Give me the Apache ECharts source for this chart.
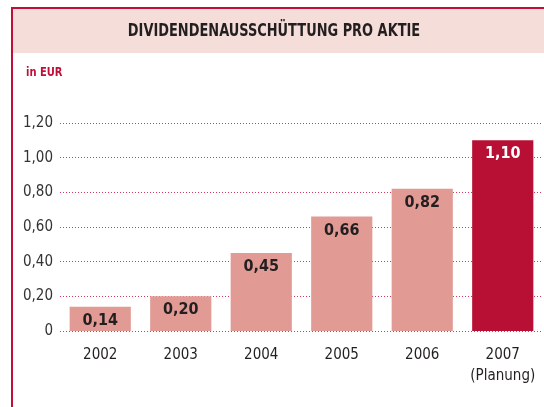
<!DOCTYPE html>
<html>
<head>
<meta charset="utf-8">
<script src="https://cdn.jsdelivr.net/npm/echarts@6/dist/echarts.min.js"></script>
<style>
	html, body { margin: 0; padding: 0; background: #fff; }
	#chart { width: 544px; height: 407px; }
</style>
</head>
<body>
<div id="chart"></div>
<script>
var years = ['2002', '2003', '2004', '2005', '2006', '2007\n(Planung)'];
var dividends = [0.14, 0.20, 0.45, 0.66, 0.82, 1.10];
var barColors = ['#e19b94', '#e19b94', '#e19b94', '#e19b94', '#e19b94', '#b81035'];
var labelColors = ['#231f20', '#231f20', '#231f20', '#231f20', '#231f20', '#ffffff'];

var font = '"Liberation Sans Narrow", "DejaVu Sans Condensed", "Roboto", sans-serif';
var red = '#c0103a';

function fmt(v) {
	return v === 0 ? '0' : v.toFixed(2).replace('.', ',');
}

var ec = echarts.init(document.getElementById('chart'), null, { renderer: 'canvas' });

var bars = [];
for (var i = 0; i < dividends.length; i++) {
	bars.push({
		value: dividends[i],
		itemStyle: { color: barColors[i] },
		label: { color: labelColors[i] }
	});
}

ec.setOption({
	animation: false,
	graphic: [{
		type: 'rect',
		shape: { x: 13, y: 9, width: 540, height: 44 },
		style: { fill: '#f5ddd9' },
		z: -10
	}, {
		type: 'rect',
		shape: { x: 11, y: 7, width: 540, height: 2 },
		style: { fill: red }
	}, {
		type: 'rect',
		shape: { x: 11, y: 7, width: 2, height: 410 },
		style: { fill: red }
	}, {
		// titel etwas schmaler gezogen, wie die condensed schrift im original
		type: 'text',
		x: 274,
		y: 31,
		scaleX: 0.8,
		style: {
			text: 'DIVIDENDENAUSSCHÜTTUNG PRO AKTIE',
			font: 'bold 18px ' + font,
			fill: '#231f20',
			align: 'center',
			verticalAlign: 'middle'
		}
	}, {
		type: 'text',
		x: 26,
		y: 73,
		scaleX: 0.85,
		style: {
			text: 'in EUR',
			font: 'bold 13px ' + font,
			fill: red,
			verticalAlign: 'middle'
		}
	}],
	grid: {
		left: 60,
		right: 1,
		top: 123,
		bottom: 76,
		containLabel: false
	},
	xAxis: {
		type: 'category',
		data: years,
		axisLine: { show: false },
		axisTick: { show: false },
		axisLabel: {
			interval: 0,
			margin: 14,
			color: '#231f20',
			fontFamily: font,
			fontSize: 15,
			lineHeight: 21
		}
	},
	yAxis: {
		type: 'value',
		min: 0,
		max: 1.2,
		interval: 0.2,
		axisLine: { show: false },
		axisTick: { show: false },
		splitLine: {
			show: true,
			lineStyle: { color: '#d8365a', type: [1, 2], width: 1 }
		},
		axisLabel: {
			margin: 7,
			color: '#333333',
			fontFamily: font,
			fontSize: 15,
			formatter: fmt
		}
	},
	series: [{
		type: 'bar',
		barCategoryGap: '24%',
		data: bars,
		label: {
			show: true,
			position: 'insideTop',
			distance: 6,
			fontFamily: font,
			fontWeight: 'bold',
			fontSize: 16,
			formatter: function(p) {
				return fmt(p.value);
			}
		}
	}]
});
</script>
</body>
</html>
